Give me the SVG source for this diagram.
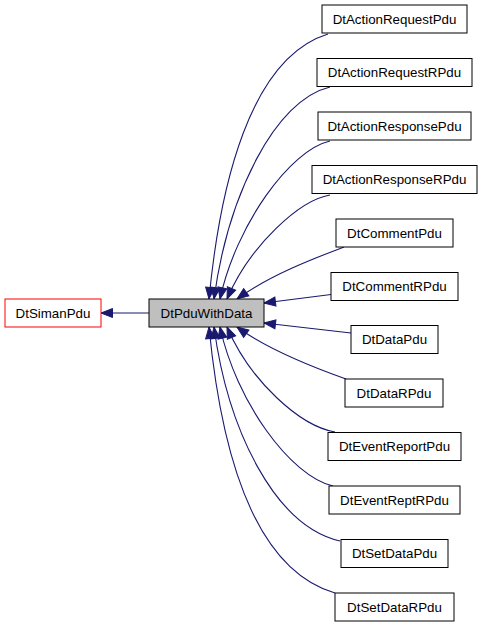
<svg xmlns="http://www.w3.org/2000/svg" width="483" height="627" viewBox="0 0 483 627">
<style>
.n rect{fill:#ffffff;stroke:#000000;stroke-width:1}
.n text{font-family:"Liberation Sans",Arial,sans-serif;font-size:13.33px;text-anchor:middle;fill:#000000}
#edges path{fill:none;stroke:#191970;stroke-width:1.1;marker-end:url(#ah)}
</style>
<defs>
<marker id="ah" markerWidth="14" markerHeight="12" refX="12.5" refY="6" orient="auto" markerUnits="userSpaceOnUse" viewBox="0 0 14 12">
<path d="M1,1.5 L12.5,6 L1,10.5 z" fill="#191970" stroke="#191970" stroke-width="1"/>
</marker>
</defs>
<rect width="483" height="627" fill="#ffffff"/>
<g id="edges">
<path d="M149,313 L101,313"/>
<path d="M328,34 C250,58 220,185 209,299"/>
<path d="M330,87 C275,100 228,195 214,299"/>
<path d="M330,141 C290,150 236,225 220,299"/>
<path d="M330,195 C300,200 250,245 227,299"/>
<path d="M344,247 C315,258 270,275 237,299"/>
<path d="M331,294.5 L264,303"/>
<path d="M351,333 L264,323"/>
<path d="M346,379 C315,368 270,351 237,327"/>
<path d="M335,432 C300,426 250,381 227,327"/>
<path d="M333,486 C290,476 236,401 220,327"/>
<path d="M340,541 C275,526 228,431 214,327"/>
<path d="M335,593 C250,568 220,441 209,327"/>
</g>
<g id="DtSimanPdu" class="n"><rect x="5" y="299" width="96" height="28" style="stroke:#ff0000"/><text x="53" y="317.5">DtSimanPdu</text></g>
<g id="DtPduWithData" class="n"><rect x="149" y="299" width="115" height="28" style="fill:#bfbfbf"/><text x="206.5" y="317.5">DtPduWithData</text></g>
<g id="DtActionRequestPdu" class="n"><rect x="322" y="5" width="145" height="28"/><text x="394.5" y="23.5">DtActionRequestPdu</text></g>
<g id="DtActionRequestRPdu" class="n"><rect x="317" y="58.5" width="155" height="28"/><text x="394.5" y="77">DtActionRequestRPdu</text></g>
<g id="DtActionResponsePdu" class="n"><rect x="318" y="112" width="153" height="28"/><text x="394.5" y="130.5">DtActionResponsePdu</text></g>
<g id="DtActionResponseRPdu" class="n"><rect x="312" y="165.5" width="165" height="28"/><text x="394.5" y="184">DtActionResponseRPdu</text></g>
<g id="DtCommentPdu" class="n"><rect x="336" y="219" width="117" height="28"/><text x="394.5" y="237.5">DtCommentPdu</text></g>
<g id="DtCommentRPdu" class="n"><rect x="331" y="272.5" width="127" height="28"/><text x="394.5" y="291">DtCommentRPdu</text></g>
<g id="DtDataPdu" class="n"><rect x="351" y="325.5" width="87" height="28"/><text x="394.5" y="344">DtDataPdu</text></g>
<g id="DtDataRPdu" class="n"><rect x="345" y="379" width="98" height="28"/><text x="394" y="397.5">DtDataRPdu</text></g>
<g id="DtEventReportPdu" class="n"><rect x="328" y="432.5" width="133" height="28"/><text x="394.5" y="451">DtEventReportPdu</text></g>
<g id="DtEventReptRPdu" class="n"><rect x="329" y="486" width="131" height="28"/><text x="394.5" y="504.5">DtEventReptRPdu</text></g>
<g id="DtSetDataPdu" class="n"><rect x="341" y="539.5" width="107" height="28"/><text x="394.5" y="558">DtSetDataPdu</text></g>
<g id="DtSetDataRPdu" class="n"><rect x="335" y="593" width="119" height="28"/><text x="394.5" y="611.5">DtSetDataRPdu</text></g>
</svg>
